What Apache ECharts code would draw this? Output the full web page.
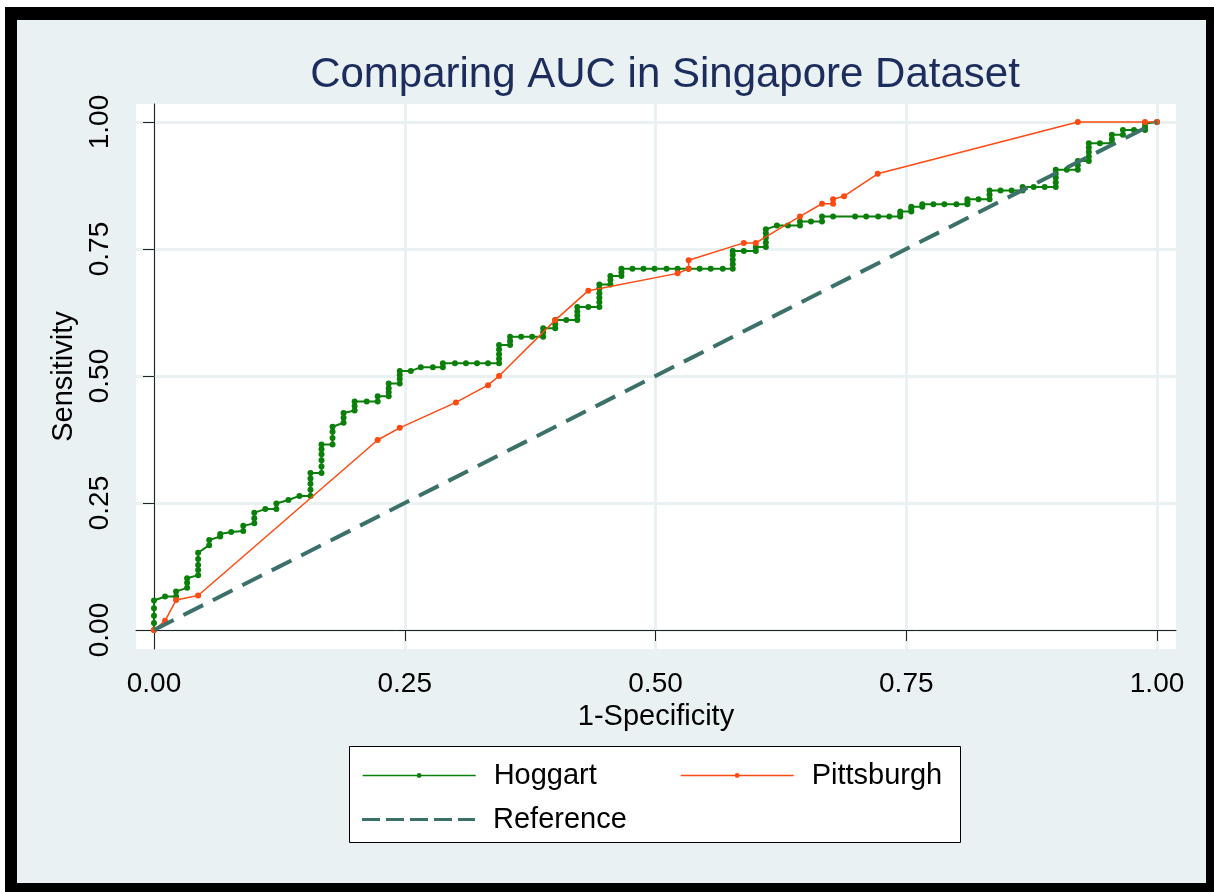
<!DOCTYPE html>
<html>
<head>
<meta charset="utf-8">
<script src="https://cdn.jsdelivr.net/npm/echarts@6/dist/echarts.min.js"></script>
<style>
  html, body { margin: 0; padding: 0; background: #ffffff; width: 1214px; height: 892px; overflow: hidden; }
  #frame { position: absolute; left: 5px; top: 7px; width: 1209px; height: 885px; background: #000; }
  #inner { position: absolute; left: 17px; top: 20px; width: 1189px; height: 863px; background: #EAF1F3; }
  #chart { position: absolute; left: 0; top: 0; width: 1214px; height: 892px; }
</style>
</head>
<body>
<div id="frame"></div>
<div id="inner"></div>
<div id="chart"></div>
<script>
const titleText = 'Comparing AUC in Singapore Dataset';
const xTitle = '1-Specificity';
const yTitle = 'Sensitivity';
const tickValues = [0, 0.25, 0.5, 0.75, 1];

const hoggartPoints = [
  [0,0],[0,0.014],[0,0.028],[0,0.043],[0,0.058],
  [0.011,0.066],
  [0.022,0.066],[0.022,0.076],
  [0.033,0.083],[0.033,0.093],[0.033,0.102],
  [0.044,0.108],[0.044,0.118],[0.044,0.128],[0.044,0.140],[0.044,0.152],
  [0.055,0.167],[0.055,0.177],
  [0.066,0.184],[0.066,0.189],
  [0.077,0.193],
  [0.089,0.195],[0.089,0.205],
  [0.100,0.210],[0.100,0.220],[0.100,0.231],
  [0.111,0.238],
  [0.122,0.238],[0.122,0.249],
  [0.134,0.256],
  [0.145,0.264],
  [0.156,0.264],[0.156,0.276],[0.156,0.288],[0.156,0.298],[0.156,0.309],
  [0.167,0.309],[0.167,0.322],[0.167,0.334],[0.167,0.346],[0.167,0.356],[0.167,0.365],
  [0.178,0.365],[0.178,0.378],[0.178,0.390],[0.178,0.400],
  [0.189,0.408],[0.189,0.418],[0.189,0.427],
  [0.200,0.432],[0.200,0.441],[0.200,0.450],
  [0.212,0.450],
  [0.223,0.450],[0.223,0.460],
  [0.234,0.460],[0.234,0.468],[0.234,0.476],[0.234,0.485],
  [0.245,0.485],[0.245,0.494],[0.245,0.502],[0.245,0.510],
  [0.256,0.510],
  [0.266,0.517],
  [0.278,0.517],
  [0.288,0.517],[0.288,0.525],
  [0.300,0.525],[0.311,0.525],[0.322,0.525],[0.333,0.525],
  [0.344,0.525],[0.344,0.534],[0.344,0.543],[0.344,0.552],[0.344,0.561],
  [0.355,0.561],[0.355,0.569],[0.355,0.577],
  [0.366,0.577],[0.377,0.577],
  [0.388,0.577],[0.388,0.586],[0.388,0.594],
  [0.400,0.594],[0.400,0.602],[0.400,0.610],
  [0.411,0.610],
  [0.422,0.610],[0.422,0.619],[0.422,0.627],[0.422,0.636],
  [0.433,0.636],
  [0.444,0.636],[0.444,0.645],[0.444,0.654],[0.444,0.663],[0.444,0.672],[0.444,0.680],
  [0.455,0.680],[0.455,0.689],[0.455,0.697],
  [0.466,0.697],[0.466,0.704],[0.466,0.711],
  [0.477,0.711],[0.488,0.711],[0.499,0.711],[0.511,0.711],[0.522,0.711],
  [0.533,0.711],[0.544,0.711],[0.555,0.711],[0.567,0.711],
  [0.577,0.711],[0.577,0.720],[0.577,0.729],[0.577,0.738],[0.577,0.746],
  [0.588,0.746],
  [0.600,0.746],[0.600,0.754],
  [0.610,0.754],[0.610,0.763],[0.610,0.772],[0.610,0.781],[0.610,0.789],
  [0.621,0.796],
  [0.632,0.796],
  [0.644,0.796],[0.644,0.804],
  [0.655,0.804],
  [0.666,0.804],[0.666,0.814],
  [0.677,0.814],[0.699,0.814],[0.710,0.814],[0.722,0.814],[0.733,0.814],
  [0.744,0.814],[0.744,0.819],[0.744,0.824],
  [0.755,0.824],[0.755,0.829],[0.755,0.833],
  [0.766,0.833],[0.766,0.838],
  [0.777,0.838],[0.788,0.838],[0.800,0.838],
  [0.811,0.838],[0.811,0.843],[0.811,0.848],
  [0.822,0.848],
  [0.833,0.848],[0.833,0.857],[0.833,0.865],
  [0.844,0.865],
  [0.855,0.865],
  [0.866,0.865],[0.866,0.872],
  [0.877,0.872],[0.888,0.872],
  [0.899,0.872],[0.899,0.881],[0.899,0.890],[0.899,0.898],[0.899,0.906],
  [0.910,0.906],
  [0.921,0.906],[0.921,0.915],[0.921,0.923],
  [0.932,0.923],[0.932,0.932],[0.932,0.941],[0.932,0.950],[0.932,0.958],
  [0.943,0.958],
  [0.955,0.958],[0.955,0.966],[0.955,0.975],
  [0.966,0.975],[0.966,0.984],
  [0.977,0.984],
  [0.988,0.984],[0.988,0.990],[0.988,0.997],
  [1.000,1.000]
];

const pittsburghPoints = [
  [0,0],[0.011,0.018],[0.022,0.059],[0.044,0.068],
  [0.223,0.374],[0.245,0.398],[0.301,0.448],[0.333,0.482],[0.344,0.500],
  [0.400,0.610],[0.433,0.668],[0.522,0.702],[0.533,0.711],[0.533,0.728],
  [0.588,0.762],[0.600,0.762],[0.644,0.814],[0.666,0.839],[0.677,0.839],
  [0.677,0.848],[0.688,0.854],[0.7215,0.898],[0.921,1.000],[0.988,1.000],[1.000,1.000]
];

const referencePoints = [[0,0],[1,1]];

const FONT = "'Liberation Sans', Arial, Helvetica, sans-serif";
const GREEN = '#0a7f0a';
const ORANGE = '#ff4a12';
const REFC = '#3b7168';

// dashed legend key for the reference line (5 dashes)
const DASH_ICON = 'path://M0,0h18v3h-18z M24,0h18v3h-18z M48,0h18v3h-18z M72,0h18v3h-18z M96,0h17v3h-17z';

const chart = echarts.init(document.getElementById('chart'), null, {renderer: 'canvas'});

function legendAt(name, left, top, extra) {
  return Object.assign({
    data: [name],
    left: left,
    top: top,
    padding: 0,
    itemWidth: 113,
    itemHeight: 6,
    selectedMode: false,
    lineStyle: { width: 1.3 },
    textStyle: { fontFamily: FONT, fontSize: 29, color: '#000', padding: [0, 0, 0, 13] }
  }, extra || {});
}

chart.setOption({
  animation: false,
  backgroundColor: 'transparent',
  title: {
    text: titleText,
    left: 660,
    top: 49,
    textAlign: 'center',
    textStyle: { fontFamily: FONT, fontSize: 42, fontWeight: 'normal', color: '#1c2c5c' }
  },
  grid: {
    left: 136, top: 104, width: 1040, height: 545,
    show: true, backgroundColor: '#ffffff', borderWidth: 0
  },
  graphic: [
    { type: 'rect', shape: { x: 349.5, y: 746.5, width: 611, height: 96 },
      style: { fill: '#ffffff', stroke: '#000', lineWidth: 1 }, z: 1 }
  ],
  legend: [
    legendAt('Hoggart', 362, 761),
    legendAt('Pittsburgh', 680, 761),
    legendAt('Reference', 362, 805, {
      itemHeight: 3,
      data: [{ name: 'Reference', icon: DASH_ICON,
               itemStyle: { color: REFC, borderWidth: 0, opacity: 1 } }]
    })
  ],
  xAxis: {
    type: 'value',
    min: -0.01795, max: 1.0189,
    name: xTitle, nameLocation: 'middle', nameGap: 49,
    nameTextStyle: { fontFamily: FONT, fontSize: 29, color: '#000' },
    axisLine: { show: true, lineStyle: { color: '#222', width: 1 } },
    axisTick: { show: true, length: 11, customValues: tickValues, lineStyle: { color: '#222' } },
    axisLabel: { customValues: tickValues, margin: 21, fontFamily: FONT, fontSize: 28, color: '#000',
      formatter: v => v.toFixed(2) },
    splitLine: { show: true, lineStyle: { color: '#EAF1F3', width: 3 } }
  },
  yAxis: {
    type: 'value',
    min: -0.0374, max: 1.0354,
    name: yTitle, nameLocation: 'middle', nameGap: 45, nameRotate: 90,
    nameTextStyle: { fontFamily: FONT, fontSize: 29, color: '#000' },
    axisLine: { show: true, lineStyle: { color: '#222', width: 1 } },
    axisTick: { show: true, length: 11, customValues: tickValues, lineStyle: { color: '#222' } },
    axisLabel: { customValues: tickValues, rotate: 90, margin: 22, fontFamily: FONT, fontSize: 28, color: '#000',
      formatter: v => v.toFixed(2) },
    splitLine: { show: true, lineStyle: { color: '#EAF1F3', width: 3 } }
  },
  series: [
    { name: 'Hoggart', type: 'line', data: hoggartPoints,
      symbol: 'circle', symbolSize: 6, showAllSymbol: true,
      itemStyle: { color: GREEN }, lineStyle: { color: GREEN, width: 2 }, z: 3 },
    { name: 'Pittsburgh', type: 'line', data: pittsburghPoints,
      symbol: 'circle', symbolSize: 6, showAllSymbol: true,
      itemStyle: { color: ORANGE }, lineStyle: { color: ORANGE, width: 1.5 }, z: 4 },
    { name: 'Reference', type: 'line', data: referencePoints,
      symbol: 'none',
      itemStyle: { color: REFC }, lineStyle: { color: REFC, width: 4, type: [22, 11] }, z: 5 }
  ]
});
</script>
</body>
</html>
